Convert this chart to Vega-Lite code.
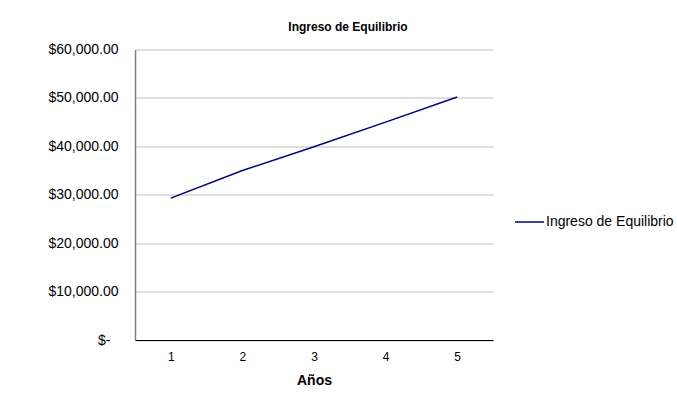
{
  "$schema": "https://vega.github.io/schema/vega-lite/v6.json",
  "autosize": {"type": "none"},
  "width": 358,
  "height": 290.5,
  "padding": {"left": 135, "top": 49.5, "right": 184, "bottom": 58},
  "background": "white",
  "title": {
    "text": "Ingreso de Equilibrio",
    "font": "Liberation Sans",
    "fontSize": 12,
    "fontWeight": "bold",
    "color": "black",
    "anchor": "middle",
    "dx": 34,
    "baseline": "alphabetic",
    "offset": 0
  },
  "data": {
    "values": [
      {"anio": "1", "ingreso": 29300, "serie": "Ingreso de Equilibrio"},
      {"anio": "2", "ingreso": 35000, "serie": "Ingreso de Equilibrio"},
      {"anio": "3", "ingreso": 39900, "serie": "Ingreso de Equilibrio"},
      {"anio": "4", "ingreso": 45000, "serie": "Ingreso de Equilibrio"},
      {"anio": "5", "ingreso": 50200, "serie": "Ingreso de Equilibrio"}
    ]
  },
  "mark": {"type": "line", "strokeWidth": 1.5},
  "encoding": {
    "x": {
      "field": "anio",
      "type": "ordinal",
      "scale": {"type": "point", "padding": 0.5},
      "axis": {
        "title": "Años",
        "titleFont": "Liberation Sans",
        "titleFontSize": 14,
        "titleFontWeight": "bold",
        "titleColor": "black",
        "titlePadding": 11,
        "labelFont": "Liberation Sans",
        "labelFontSize": 12,
        "labelColor": "black",
        "labelAngle": 0,
        "labelPadding": 11,
        "ticks": false,
        "grid": false,
        "domainColor": "black",
        "domainWidth": 1
      }
    },
    "y": {
      "field": "ingreso",
      "type": "quantitative",
      "scale": {"domain": [0, 60000], "nice": false},
      "axis": {
        "title": null,
        "values": [0, 10000, 20000, 30000, 40000, 50000, 60000],
        "labelExpr": "datum.value === 0 ? '$-' : '$' + format(datum.value, ',.2f')",
        "labelFont": "Liberation Sans",
        "labelFontSize": 14,
        "labelColor": "black",
        "labelPadding": {"condition": {"test": "datum.value === 0", "value": 25}, "value": 17},
        "ticks": false,
        "grid": true,
        "gridColor": "#c0c0c0",
        "gridWidth": 1,
        "domainColor": "#808080",
        "domainWidth": 1.5
      }
    },
    "color": {
      "field": "serie",
      "type": "nominal",
      "scale": {"range": ["#000080"]},
      "legend": {
        "title": null,
        "orient": "none",
        "legendX": 379,
        "legendY": 157,
        "symbolType": "stroke",
        "symbolSize": 841,
        "symbolStrokeWidth": 1.5,
        "labelFont": "Liberation Sans",
        "labelFontSize": 14,
        "labelColor": "black",
        "labelOffset": 1
      }
    }
  },
  "config": {
    "view": {"stroke": null}
  }
}
